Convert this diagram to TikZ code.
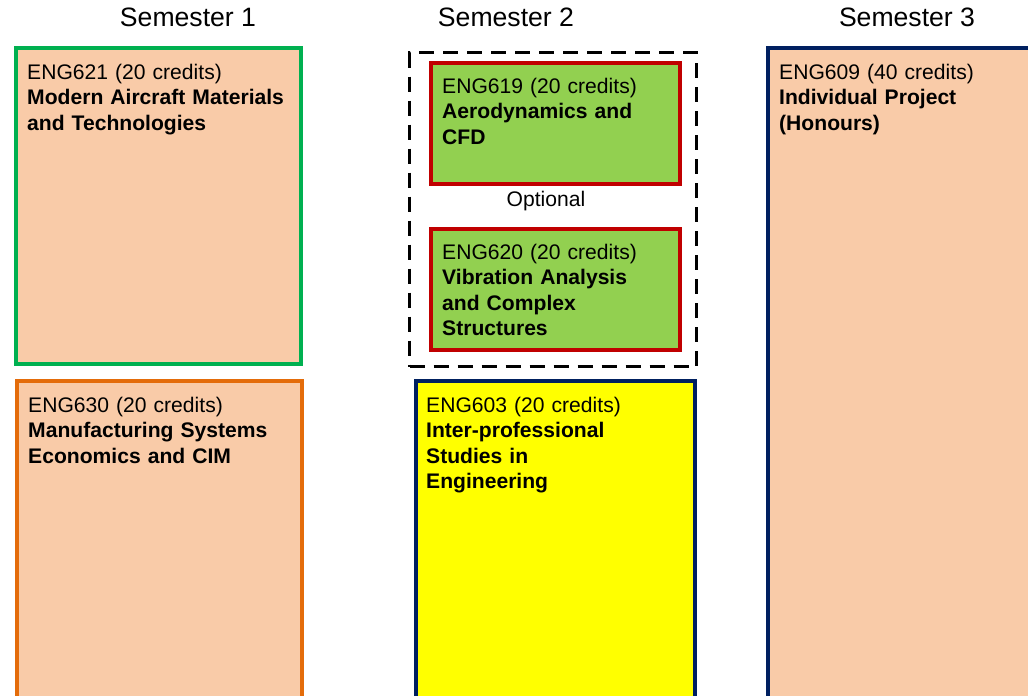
\documentclass[tikz,border=0pt]{standalone}
\usepackage{fontspec}
\setmainfont{Liberation Sans}
\definecolor{peach}{RGB}{249,203,168}
\definecolor{lgreen}{RGB}{146,208,80}
\definecolor{bgreen}{RGB}{0,176,80}
\definecolor{borange}{RGB}{228,108,10}
\definecolor{bnavy}{RGB}{0,32,96}
\definecolor{bred}{RGB}{192,0,0}
\definecolor{pyellow}{RGB}{255,255,0}
\begin{document}
\begin{tikzpicture}[x=1pt,y=-1pt,
  modbox/.style={draw=#1, line width=3.2pt, anchor=north west, inner sep=0pt, outer sep=0pt},
  modtext/.style={anchor=base west, inner sep=0pt, align=left, text width=280pt,
    font=\fontsize{21.1}{25.5}\selectfont},
  semhead/.style={anchor=base, inner sep=0pt, font=\fontsize{26.6}{30}\selectfont},
  optbox/.style={draw=black, line width=3.2pt, dash pattern=on 15pt off 9pt}
]
\useasboundingbox (0,0) rectangle (1028,696);
\clip (0,0) rectangle (1028,696);

% headers
\node[semhead] (s1) at (188,27) {Semester 1};
\node[semhead] (s2) at (506,27) {Semester 2};
\node[semhead] (s3) at (907,27) {Semester 3};

% semester 1
\node[modbox=bgreen, fill=peach, minimum width=285pt, minimum height=316pt] (b621) at (16,48) {};
\node[modtext] (t621) at (27,79) {ENG621 (20 credits)\\\textbf{Modern Aircraft Materials}\\\textbf{and Technologies}};

\node[modbox=borange, fill=peach, minimum width=285pt, minimum height=360pt] (b630) at (17,381) {};
\node[modtext] (t630) at (28,412) {ENG630 (20 credits)\\\textbf{Manufacturing Systems}\\\textbf{Economics and CIM}};

% semester 2
\node[optbox, anchor=north west, inner sep=0pt, minimum width=287pt, minimum height=314pt] (opt) at (408,51) {};

\node[modbox=bred, fill=lgreen, minimum width=249pt, minimum height=121pt] (b619) at (431,63) {};
\node[modtext] (t619) at (442,93) {ENG619 (20 credits)\\\textbf{Aerodynamics and}\\\textbf{CFD}};

\node[anchor=base, inner sep=0pt, font=\fontsize{21.1}{25.5}\selectfont] (optl) at (546,206) {Optional};

\node[modbox=bred, fill=lgreen, minimum width=249pt, minimum height=121pt] (b620) at (431,229) {};
\node[modtext] (t620) at (442,259) {ENG620 (20 credits)\\\textbf{Vibration Analysis}\\\textbf{and Complex}\\\textbf{Structures}};

\node[modbox=bnavy, fill=pyellow, minimum width=279pt, minimum height=360pt] (b603) at (416,381) {};
\node[modtext] (t603) at (426,412) {ENG603 (20 credits)\\\textbf{Inter-professional}\\\textbf{Studies in}\\\textbf{Engineering}};

% semester 3
\node[modbox=bnavy, fill=peach, minimum width=280pt, minimum height=700pt] (b609) at (768,48) {};
\node[modtext] (t609) at (779,79) {ENG609 (40 credits)\\\textbf{Individual Project}\\\textbf{(Honours)}};
\end{tikzpicture}
\end{document}
